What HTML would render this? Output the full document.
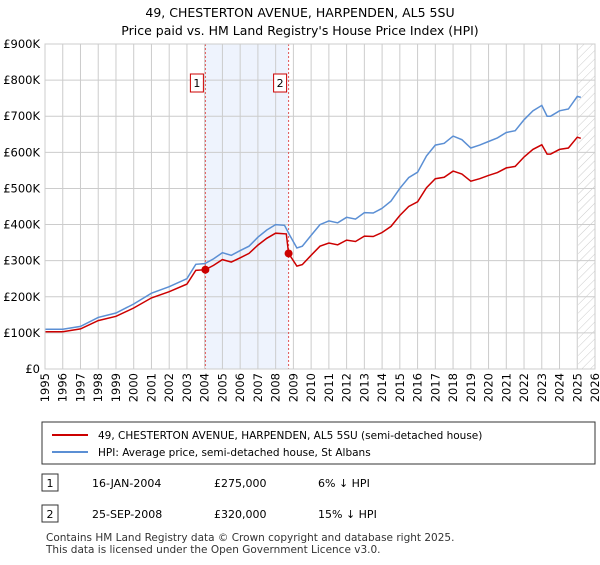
<!DOCTYPE html>
<html><head><meta charset="utf-8"><style>
body{margin:0;background:#fff;font-family:"Liberation Sans","DejaVu Sans",sans-serif;}
svg text{font-family:"DejaVu Sans","Liberation Sans",sans-serif;}
</style></head><body>
<svg id="c" width="600" height="560" xmlns="http://www.w3.org/2000/svg">
<defs><pattern id="h" width="6" height="6" patternUnits="userSpaceOnUse" patternTransform="rotate(45)"><line x1="0" y1="0" x2="0" y2="6" stroke="#ccc" stroke-width="1"/></pattern></defs>
<text x="300" y="17" text-anchor="middle" font-size="12.5">49, CHESTERTON AVENUE, HARPENDEN, AL5 5SU</text>
<text x="300" y="35" text-anchor="middle" font-size="12.5">Price paid vs. HM Land Registry's House Price Index (HPI)</text>
<g id="grid"></g><g id="series"></g><g id="axes"></g>
<rect x="42" y="422" width="553" height="42" fill="#fff" stroke="#333"/>
<line x1="52" y1="435" x2="88" y2="435" stroke="#cc0000" stroke-width="2"/>
<text x="98" y="439" font-size="10.5">49, CHESTERTON AVENUE, HARPENDEN, AL5 5SU (semi-detached house)</text>
<line x1="52" y1="452" x2="88" y2="452" stroke="#5b8fd4" stroke-width="2"/>
<text x="98" y="456" font-size="10.5">HPI: Average price, semi-detached house, St Albans</text>
<g>
<rect x="42" y="474" width="16" height="17" fill="#fff" stroke="#333"/><text x="50" y="487" text-anchor="middle" font-size="11">1</text>
<text x="92" y="487" font-size="11">16-JAN-2004</text><text x="214" y="487" font-size="11">£275,000</text><text x="318" y="487" font-size="11">6% ↓ HPI</text></g>
<g>
<rect x="42" y="505" width="16" height="17" fill="#fff" stroke="#333"/><text x="50" y="518" text-anchor="middle" font-size="11">2</text>
<text x="92" y="518" font-size="11">25-SEP-2008</text><text x="214" y="518" font-size="11">£320,000</text><text x="318" y="518" font-size="11">15% ↓ HPI</text></g>
<text x="46" y="541" font-size="10.5" fill="#333">Contains HM Land Registry data © Crown copyright and database right 2025.</text>
<text x="46" y="553" font-size="10.5" fill="#333">This data is licensed under the Open Government Licence v3.0.</text>
</svg>
<script>
const hpiYears=[1995,1996,1997,1998,1999,2000,2001,2002,2003,2003.5,2004,2004.5,2005,2005.5,2006,2006.5,2007,2007.5,2008,2008.5,2008.8,2009.2,2009.5,2010,2010.5,2011,2011.5,2012,2012.5,2013,2013.5,2014,2014.5,2015,2015.5,2016,2016.5,2017,2017.5,2018,2018.5,2019,2019.5,2020,2020.5,2021,2021.5,2022,2022.5,2023,2023.3,2023.5,2024,2024.5,2025,2025.2];
const hpiValues=[110,110,118,143,155,180,210,228,250,290,292,305,322,315,328,340,365,385,400,398,370,335,340,370,400,410,405,420,415,433,432,445,465,500,530,545,590,620,625,645,635,612,620,630,640,655,660,690,715,730,700,700,715,720,755,752];
const priceYears=[1995,1996,1997,1998,1999,2000,2001,2002,2003,2003.5,2004.04,2004.5,2005,2005.5,2006,2006.5,2007,2007.5,2008,2008.6,2008.73,2009.2,2009.5,2010,2010.5,2011,2011.5,2012,2012.5,2013,2013.5,2014,2014.5,2015,2015.5,2016,2016.5,2017,2017.5,2018,2018.5,2019,2019.5,2020,2020.5,2021,2021.5,2022,2022.5,2023,2023.3,2023.5,2024,2024.5,2025,2025.2];
const priceValues=[103,103,111,134,146,169,197,214,235,273,275,287,303,296,308,320,343,362,376,374,320,285,289,315,340,349,344,357,353,368,367,378,395,425,450,463,502,527,531,548,540,520,527,536,544,557,561,587,608,621,595,595,608,612,642,639];
const saleYears=[2004.04,2008.73];
const saleValues=[275,320];
const saleLabels=["1","2"];
const yTicks=[0,100,200,300,400,500,600,700,800,900];
const yTickLabels=["£0","£100K","£200K","£300K","£400K","£500K","£600K","£700K","£800K","£900K"];
const xTicks=[1995,1996,1997,1998,1999,2000,2001,2002,2003,2004,2005,2006,2007,2008,2009,2010,2011,2012,2013,2014,2015,2016,2017,2018,2019,2020,2021,2022,2023,2024,2025,2026];
const NS="http://www.w3.org/2000/svg";
const X0=45,X1=595,Y0=369,Y1=44;
const xs=y=>X0+(y-1995)/(2026-1995)*(X1-X0);
const ys=v=>Y0-v/900*(Y0-Y1);
function mk(p,t,a){const e=document.createElementNS(NS,t);for(const k in a)e.setAttribute(k,a[k]);p.appendChild(e);return e;}
const g=document.getElementById('grid'),s=document.getElementById('series'),ax=document.getElementById('axes');
let sh=mk(g,'rect',{x:xs(saleYears[0]),y:Y1,width:xs(saleYears[1])-xs(saleYears[0]),height:Y0-Y1,fill:'#eef3fd'});


let ht=mk(g,'rect',{x:xs(2025.05),y:Y1,width:X1-xs(2025.05),height:Y0-Y1,fill:'url(#h)'});


xTicks.forEach(t=>{const l=mk(g,'line',{x1:xs(t),x2:xs(t),y1:Y1,y2:Y0,stroke:'#ccc'});


const px=xs(t)+4,py=Y0+4;
const tx=mk(ax,'text',{x:px,y:py,'text-anchor':'end','font-size':11.5,transform:'rotate(-90 '+px+' '+py+')'});tx.textContent=t;

});
yTicks.forEach((t,i)=>{const l=mk(g,'line',{x1:X0,x2:X1,y1:ys(t),y2:ys(t),stroke:'#ccc'});


const tx=mk(ax,'text',{x:X0-5,y:ys(t)+4,'text-anchor':'end','font-size':11.5});tx.textContent=yTickLabels[i];

});
saleYears.forEach((y,i)=>{const l=mk(g,'line',{x1:xs(y),x2:xs(y),y1:Y1,y2:Y0,stroke:'#e05555','stroke-dasharray':'2,2'});

});
const pts=(xa,va)=>xa.map((x,i)=>xs(x).toFixed(1)+','+ys(va[i]).toFixed(1)).join(' ');
let hp=mk(s,'polyline',{points:pts(hpiYears,hpiValues),fill:'none',stroke:'#5b8fd4','stroke-width':1.5});


let pp=mk(s,'polyline',{points:pts(priceYears,priceValues),fill:'none',stroke:'#cc0000','stroke-width':1.5});


saleYears.forEach((y,i)=>{const c=mk(s,'circle',{cx:xs(y),cy:ys(saleValues[i]),r:4,fill:'#cc0000'});


const b=mk(s,'rect',{x:xs(y)-15,y:74,width:13,height:18,fill:'#fff',stroke:'#cc0000'});


const t=mk(s,'text',{x:xs(y)-8.5,y:87,'text-anchor':'middle','font-size':11});t.textContent=saleLabels[i];

});
let fr=mk(ax,'rect',{x:X0,y:Y1,width:X1-X0,height:Y0-Y1,fill:'none',stroke:'#ccc'});


</script>
</body></html>
